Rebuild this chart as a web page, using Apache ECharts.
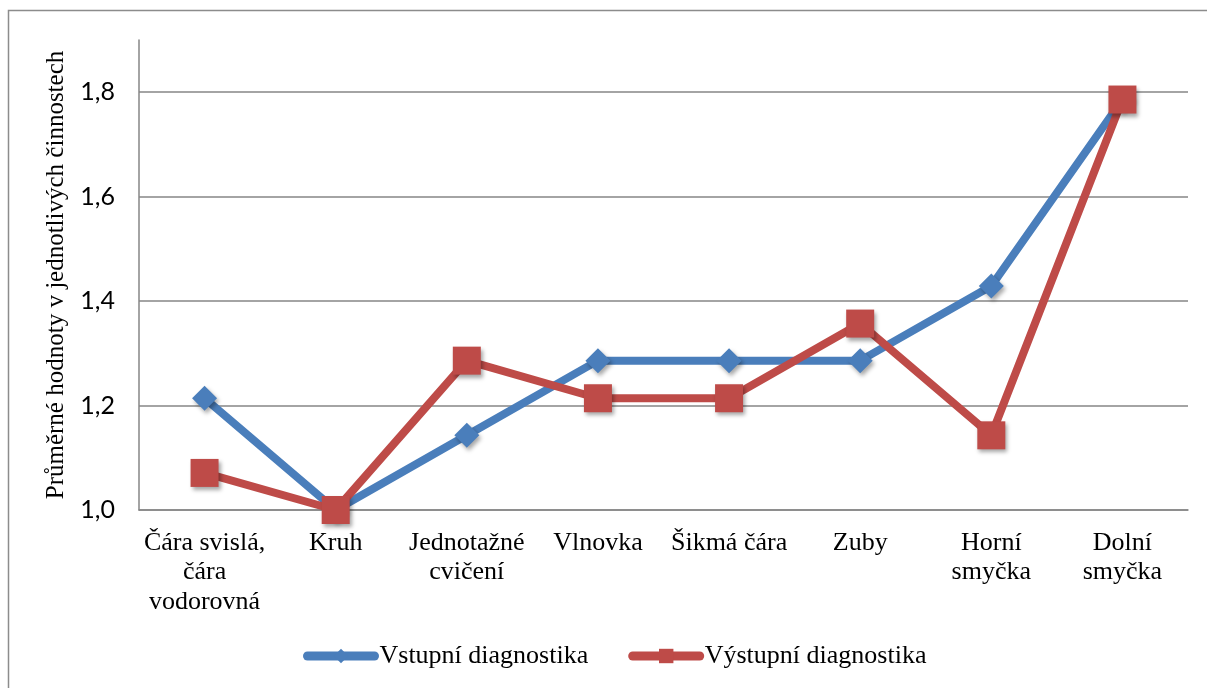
<!DOCTYPE html>
<html>
<head>
<meta charset="utf-8">
<script src="https://cdn.jsdelivr.net/npm/echarts@6/dist/echarts.min.js"></script>
<style>
  html, body { margin: 0; padding: 0; background: #fff; }
  #chart { width: 1207px; height: 688px; }
</style>
</head>
<body>
<div id="chart"></div>
<script>
// data
var categories = ['Čára svislá,\nčára\nvodorovná', 'Kruh', 'Jednotažné\ncvičení', 'Vlnovka',
  'Šikmá čára', 'Zuby', 'Horní\nsmyčka', 'Dolní\nsmyčka'];
var vstupni = [1.214, 1.0, 1.143, 1.286, 1.286, 1.286, 1.429, 1.786];
var vystupni = [1.071, 1.0, 1.286, 1.214, 1.214, 1.357, 1.143, 1.786];
var seriesNames = ['Vstupní diagnostika', 'Výstupní diagnostika'];
var yTitle = 'Průměrné hodnoty v jednotlivých činnostech';

var serif = '"Liberation Serif", "Times New Roman", serif';
var sans = 'Lato, "Open Sans", sans-serif';
var markerShadow = { shadowBlur: 4, shadowOffsetX: 2, shadowOffsetY: 3, shadowColor: 'rgba(0,0,0,0.35)' };

var myChart = echarts.init(document.getElementById('chart'));
myChart.setOption({
  animation: false,
  graphic: [{
    type: 'rect',
    shape: { x: 8.5, y: 10.5, width: 1400, height: 900 },
    style: { fill: 'none', stroke: '#8c8c8c', lineWidth: 1.5 },
    silent: true
  }],
  grid: { left: 139, right: 19, top: 40, bottom: 178 },
  legend: {
    bottom: 14,
    left: 298,
    itemWidth: 67,
    itemHeight: 18,
    itemGap: 40,
    lineStyle: { width: 9, cap: 'round' },
    textStyle: { fontFamily: serif, fontSize: 26, color: '#000' },
    data: seriesNames
  },
  xAxis: {
    type: 'category',
    data: categories,
    boundaryGap: true,
    axisLine: { lineStyle: { color: '#868686', width: 1.5 } },
    axisTick: { show: false },
    axisLabel: {
      interval: 0,
      margin: 18,
      fontFamily: serif,
      fontSize: 26,
      lineHeight: 29.5,
      color: '#000'
    }
  },
  yAxis: {
    type: 'value',
    min: 1.0,
    max: 1.9,
    interval: 0.2,
    name: yTitle,
    nameLocation: 'middle',
    nameGap: 64,
    nameRotate: 90,
    nameTextStyle: { fontFamily: serif, fontSize: 25, color: '#000' },
    axisLine: { show: true, lineStyle: { color: '#868686', width: 1.5 } },
    axisTick: { show: false },
    axisLabel: {
      showMaxLabel: false,
      margin: 24,
      fontFamily: sans,
      fontSize: 25,
      color: '#000',
      formatter: function (v) { return v.toFixed(1).replace('.', ','); }
    },
    splitLine: { showMaxLine: false, lineStyle: { color: '#868686', width: 1.5 } }
  },
  series: [
    {
      name: seriesNames[0],
      type: 'line',
      data: vstupni,
      symbol: 'diamond',
      symbolSize: 25,
      lineStyle: { color: '#4a7ebb', width: 8 },
      itemStyle: Object.assign({ color: '#4a7ebb' }, markerShadow)
    },
    {
      name: seriesNames[1],
      type: 'line',
      data: vystupni,
      symbol: 'rect',
      symbolSize: 28,
      lineStyle: { color: '#be4b48', width: 8 },
      itemStyle: Object.assign({ color: '#be4b48' }, markerShadow)
    }
  ]
});
</script>
</body>
</html>
